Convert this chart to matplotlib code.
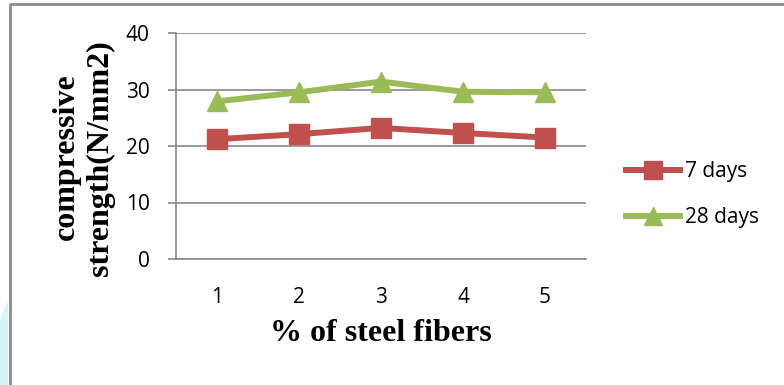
import matplotlib
matplotlib.use('Agg')
from matplotlib import pyplot as plt
from matplotlib.patches import Polygon
from matplotlib.lines import Line2D

# data
fibers = [1, 2, 3, 4, 5]
days_7 = [21.2, 22.1, 23.2, 22.3, 21.5]
days_28 = [27.9, 29.5, 31.4, 29.6, 29.5]
y_ticks = [0, 10, 20, 30, 40]

red = '#C0504D'
green = '#9BBB59'
grid_gray = '#898989'

fig = plt.figure(figsize=(7.84, 3.85), dpi=100)
ax = fig.add_axes([176 / 784, 1 - 259 / 385, 410 / 784, 226 / 385])

ax.plot(fibers, days_7, color=red, lw=4.3, marker='s', ms=14, label='7 days')
ax.plot(fibers, days_28, color=green, lw=4.3, marker='^', ms=15, label='28 days')

ax.set_xlim(0.5, 5.5)
ax.set_ylim(0, 40)
ax.set_yticks(y_ticks)
ax.set_xticks(fibers)
ax.yaxis.grid(True, color=grid_gray, lw=1.2)
ax.set_axisbelow(True)
for side in ['top', 'right']:
    ax.spines[side].set_visible(False)
for side in ['left', 'bottom']:
    ax.spines[side].set_color(grid_gray)
    ax.spines[side].set_linewidth(1.2)
ax.tick_params(axis='y', length=6, color=grid_gray, width=1.2, pad=13,
               labelsize=15)
ax.tick_params(axis='x', length=0, pad=20, labelsize=15)
for lab in ax.get_xticklabels() + ax.get_yticklabels():
    lab.set_family('Open Sans')

ax.set_xlabel('% of steel fibers', family='Liberation Serif', weight='bold',
              fontsize=23, labelpad=8)
fig.text(66 / 784, 1 - 157 / 385, 'compressive', rotation=90, ha='center',
         va='center', family='Liberation Serif', weight='bold', fontsize=23)
fig.text(100 / 784, 1 - 158 / 385, 'strength(N/mm2)', rotation=90,
         ha='center', va='center', family='Liberation Serif', weight='bold',
         fontsize=23)

leg = ax.legend(loc='center left', bbox_to_anchor=(626 / 784, 1 - 195 / 385),
                bbox_transform=fig.transFigure, frameon=False,
                prop={'family': 'Open Sans', 'size': 15}, handlelength=2.6,
                handletextpad=0.25, labelspacing=1.2, borderpad=0,
                borderaxespad=0, markerscale=0.9)

# outer frame of the picture
fig.add_artist(Line2D([10 / 784, 10 / 784, 1], [0, 1 - 4 / 385, 1 - 4 / 385],
                      color='#8c8c8c', lw=2, transform=fig.transFigure))
fig.add_artist(Polygon([[0, 0], [8 / 784, 0], [8 / 784, 1 - 300 / 385],
                        [0, 1 - 320 / 385]], closed=True, color='#d5f6f9',
                       transform=fig.transFigure, lw=0))

fig.savefig('out.png', dpi=100)
